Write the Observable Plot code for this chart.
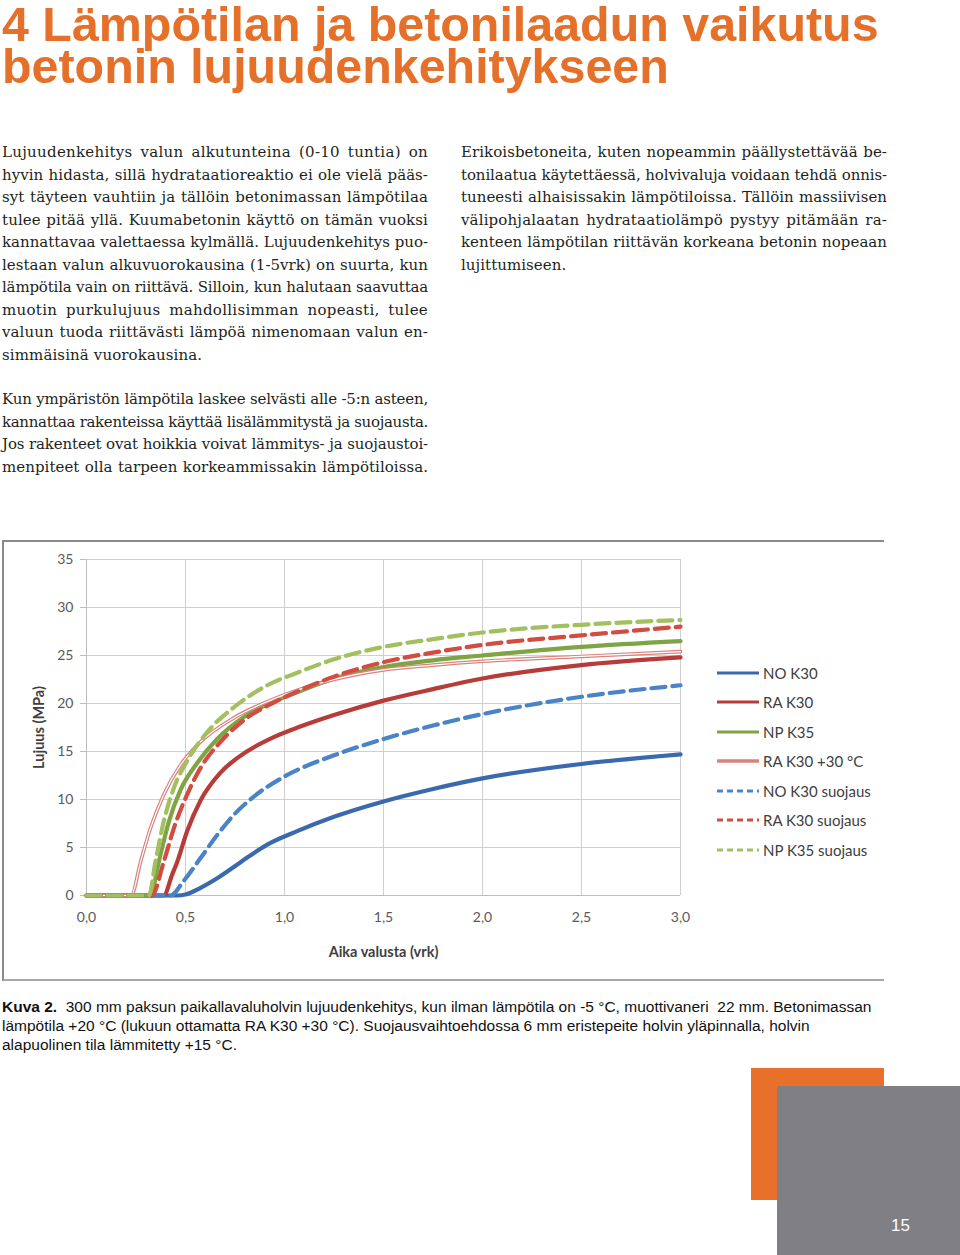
<!DOCTYPE html>
<html><head><meta charset="utf-8">
<script src="https://cdn.jsdelivr.net/npm/d3@7"></script>
<script src="https://cdn.jsdelivr.net/npm/@observablehq/plot@0.6"></script>
<style>
body{margin:0;background:#fff;}
#page{position:relative;width:960px;height:1255px;overflow:hidden;background:#fff;}
.abs{position:absolute;}
.title{left:2px;color:#e5702a;font-family:"Liberation Sans",Arial,sans-serif;font-weight:bold;font-size:48.4px;line-height:42px;height:42px;white-space:nowrap;}
.col{font-family:"DejaVu Serif","Liberation Serif",serif;font-size:15px;color:#231f20;width:426px;}
.ln{height:22.5px;line-height:22.5px;text-align:justify;text-align-last:justify;white-space:nowrap;}
.ln.last{text-align-last:left;}
#frame{left:2px;top:540px;width:882px;height:441px;border-top:2px solid #8a8a8a;border-left:2px solid #8a8a8a;border-bottom:2px solid #a8a8a8;box-sizing:border-box;}
#chart{left:0px;top:540px;}
#legend{left:716px;top:658px;font-family:Lato,"Open Sans",sans-serif;font-size:15px;color:#404040;}
.li{height:29.5px;display:flex;align-items:center;}
#caption{left:2px;top:997px;font-family:"Liberation Sans Narrow","Liberation Sans",Arial,sans-serif;font-size:15.5px;line-height:19px;color:#111;white-space:nowrap;}
[aria-label="y-axis label"],[aria-label="x-axis label"]{font-weight:bold;fill:#404040;font-size:14.5px;}
</style></head>
<body><div id="page"></div>
<script>
// ---- data ----
const seriesNames = ["NO K30","RA K30","NP K35","RA K30 +30 °C","NO K30 suojaus","RA K30 suojaus","NP K35 suojaus"];
const noK30 = [[0,0],[0.46,0],[0.5,0.1],[0.576,0.8],[0.66,1.8],[0.78,3.5],[0.913,5.3],[1.064,6.7],[1.25,8.2],[1.5,9.8],[1.75,11.1],[2.0,12.2],[2.5,13.7],[3.0,14.7]];
const raK30 = [[0,0],[0.39,0],[0.433,2.2],[0.458,3.5],[0.508,6.7],[0.576,9.9],[0.677,12.8],[0.81,15.0],[0.946,16.5],[1.08,17.6],[1.25,18.8],[1.5,20.3],[1.75,21.5],[2.0,22.6],[2.5,24.0],[3.0,24.8]];
const npK35 = [[0,0],[0.323,0],[0.365,3.5],[0.416,7.7],[0.475,11.0],[0.559,13.8],[0.66,16.3],[0.795,18.6],[0.946,20.2],[1.08,21.3],[1.25,22.6],[1.5,23.8],[1.75,24.5],[2.0,25.0],[2.5,25.9],[3.0,26.5]];
const raK30_30 = [[0,0],[0.226,0],[0.273,3.5],[0.323,7.0],[0.39,10.5],[0.475,13.6],[0.576,16.0],[0.744,18.5],[0.913,20.2],[1.08,21.5],[1.25,22.5],[1.5,23.5],[1.75,24.0],[2.0,24.4],[2.5,24.9],[3.0,25.4]];
const noK30s = [[0,0],[0.424,0],[0.49,1.5],[0.576,3.9],[0.66,6.3],[0.744,8.4],[0.845,10.3],[1.0,12.4],[1.25,14.6],[1.5,16.3],[1.75,17.7],[2.0,18.9],[2.5,20.7],[3.0,21.9]];
const raK30s = [[0,0],[0.33,0],[0.39,3.5],[0.441,7.0],[0.508,10.5],[0.576,13.3],[0.677,16.0],[0.81,18.5],[0.946,20.1],[1.08,21.4],[1.25,22.8],[1.5,24.3],[1.75,25.3],[2.0,26.1],[2.5,27.1],[3.0,28.0]];
const npK35s = [[0,0],[0.315,0],[0.348,3.5],[0.39,7.7],[0.441,11.2],[0.508,14.0],[0.626,17.4],[0.744,19.6],[0.913,21.9],[1.064,23.2],[1.25,24.6],[1.5,25.9],[1.75,26.7],[2.0,27.4],[2.5,28.2],[3.0,28.7]];
const xTicks = [0,0.5,1,1.5,2,2.5,3];
const yTicks = [0,5,10,15,20,25,30,35];

const styles = [
  {data:noK30, stroke:"#3a69ad", dash:null},
  {data:raK30, stroke:"#b73c39", dash:null},
  {data:npK35, stroke:"#7ea443", dash:null},
  {data:raK30_30, stroke:"#d8837c", dash:null, double:true},
  {data:noK30s, stroke:"#4a84c6", dash:"14,7"},
  {data:raK30s, stroke:"#d24c42", dash:"14,7"},
  {data:npK35s, stroke:"#a2c05f", dash:"14,7"}
];

const page = document.getElementById("page");
function el(tag, cls, id, html){const e=document.createElement(tag); if(cls) e.className=cls; if(id) e.id=id; if(html!=null) e.innerHTML=html; page.appendChild(e); return e;}

// title
const t1 = el("div","abs title",null,"4 Lämpötilan ja betonilaadun vaikutus"); t1.style.top="3px";
const t2 = el("div","abs title",null,"betonin lujuudenkehitykseen"); t2.style.top="45px";

// text columns
const p1 = ["Lujuudenkehitys valun alkutunteina (0-10 tuntia) on","hyvin hidasta, sillä hydrataatioreaktio ei ole vielä pääs-","syt täyteen vauhtiin ja tällöin betonimassan lämpötilaa","tulee pitää yllä. Kuumabetonin käyttö on tämän vuoksi","kannattavaa valettaessa kylmällä. Lujuudenkehitys puo-","lestaan valun alkuvuorokausina (1-5vrk) on suurta, kun","lämpötila vain on riittävä. Silloin, kun halutaan saavuttaa","muotin purkulujuus mahdollisimman nopeasti, tulee","valuun tuoda riittävästi lämpöä nimenomaan valun en-","simmäisinä vuorokausina."];
const p2 = ["Kun ympäristön lämpötila laskee selvästi alle -5:n asteen,","kannattaa rakenteissa käyttää lisälämmitystä ja suojausta.","Jos rakenteet ovat hoikkia voivat lämmitys- ja suojaustoi-","menpiteet olla tarpeen korkeammissakin lämpötiloissa."];
const p3 = ["Erikoisbetoneita, kuten nopeammin päällystettävää be-","tonilaatua käytettäessä, holvivaluja voidaan tehdä onnis-","tuneesti alhaisissakin lämpötiloissa. Tällöin massiivisen","välipohjalaatan hydrataatiolämpö pystyy pitämään ra-","kenteen lämpötilan riittävän korkeana betonin nopeaan","lujittumiseen."];
const W = 426;
function para(lines,left,top,lastLeft){
  const d = el("div","abs col");
  d.style.left=left+"px"; d.style.top=top+"px";
  const lss=[];
  const rows = lines.map((t,i)=>{
    const l=document.createElement("div");
    const isLast = i===lines.length-1 && lastLeft;
    l.className="ln"+(isLast?" last":"");
    const s=document.createElement("span"); s.textContent=t; s.style.display="inline-block";
    l.appendChild(s); d.appendChild(l);
    const w=s.getBoundingClientRect().width;
    const n=t.length;
    if(!isLast) lss.push((W - w)/n);
    return {l,t,isLast,w,n};
  });
  const avg = lss.length? lss.reduce((a,b)=>a+b,0)/lss.length : 0;
  const base = Math.max(-0.6, Math.min(0.4, avg*0.6));
  rows.forEach(r=>{
    const need=(W - r.w)/r.n;
    let ls = r.isLast ? base : (need<0 ? need : Math.min(need*0.5, 0.4));
    r.l.style.letterSpacing = ls.toFixed(3)+"px";
    r.l.textContent = r.t;
  });
}
para(p1,2,141,true);
para(p2,2,388,false);
para(p3,461,141,true);

// chart frame
el("div","abs","frame");

// chart
const fmt = d => d.toFixed(1).replace(".", ",");
const marks = [
  Plot.gridX(xTicks,{stroke:"#cfcfcf",strokeOpacity:1}),
  Plot.gridY(yTicks,{stroke:"#cfcfcf",strokeOpacity:1}),
  Plot.axisY({ticks:yTicks,tickSize:6,tickPadding:7,stroke:"#bdbdbd",label:"Lujuus (MPa)",labelAnchor:"center",labelOffset:53,labelArrow:"none"}),
  Plot.axisX({ticks:xTicks,tickSize:0,tickPadding:17,tickFormat:fmt,label:"Aika valusta (vrk)",labelAnchor:"center",labelOffset:61,labelArrow:"none"}),
  Plot.ruleY([0],{stroke:"#bdbdbd"}),
  Plot.ruleX([0],{stroke:"#bdbdbd"})
];
styles.forEach(s=>{
  marks.push(Plot.line(s.data,{x:d=>d[0],y:d=>d[1],stroke:s.stroke,strokeWidth:s.double?3.6:4.2,strokeDasharray:s.dash||undefined,curve:"monotone-x"}));
  if(s.double) marks.push(Plot.line(s.data,{x:d=>d[0],y:d=>d[1],stroke:"#ffffff",strokeWidth:1.2,curve:"monotone-x"}));
});
const chart = Plot.plot({
  width:720,height:440,marginLeft:86,marginRight:40,marginTop:19,marginBottom:85,
  x:{domain:[0,3]},y:{domain:[0,35]},
  style:{fontFamily:"Lato, 'Open Sans', sans-serif",fontSize:"14px",color:"#595959",background:"transparent",overflow:"visible"},
  marks
});
chart.classList.add("abs"); chart.id="chart";
page.appendChild(chart);

// legend
const lg = el("div","abs","legend");
styles.forEach((s,i)=>{
  const row=document.createElement("div"); row.className="li";
  const dash = s.dash ? 'stroke-dasharray="6,4"' : "";
  row.innerHTML = `<svg width="44" height="8" style="margin-right:3px"><line x1="1" x2="43" y1="4" y2="4" stroke="${s.stroke}" stroke-width="${s.double?3.4:3.2}" ${dash}/></svg><span>${seriesNames[i]}</span>`;
  lg.appendChild(row);
});

// caption
el("div","abs","caption","<b>Kuva 2.</b>&nbsp; 300 mm paksun paikallavaluholvin lujuudenkehitys, kun ilman lämpötila on -5 °C, muottivaneri&nbsp; 22 mm. Betonimassan<br>lämpötila +20 °C (lukuun ottamatta RA K30 +30 °C). Suojausvaihtoehdossa 6 mm eristepeite holvin yläpinnalla, holvin<br>alapuolinen tila lämmitetty +15 °C.");

// decorations
const o = el("div","abs"); Object.assign(o.style,{left:"751px",top:"1068px",width:"133px",height:"132px",background:"#e8702a"});
const g = el("div","abs"); Object.assign(g.style,{left:"777px",top:"1086px",width:"183px",height:"169px",background:"#7f7f84"});
const n = el("div","abs",null,"15"); Object.assign(n.style,{left:"891px",top:"1216px",color:"#fff",fontFamily:"'Liberation Sans',Arial,sans-serif",fontSize:"17px"});
</script>
</body></html>
